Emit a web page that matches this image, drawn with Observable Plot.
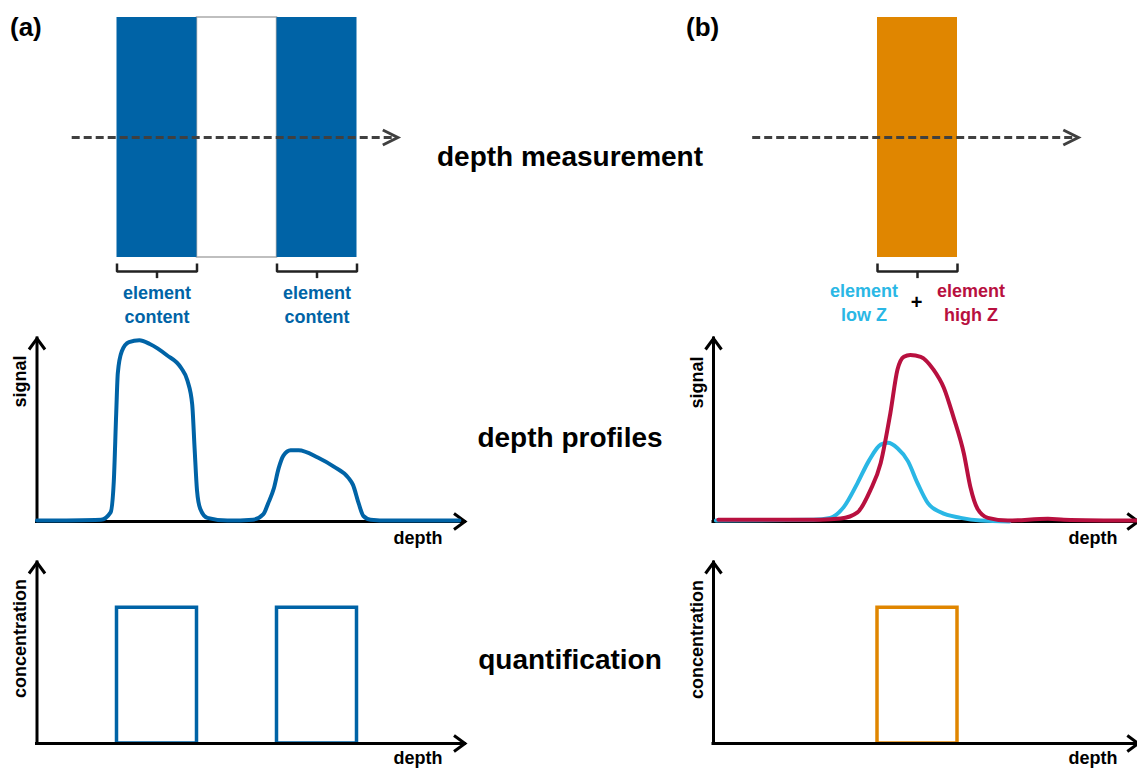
<!DOCTYPE html>
<html><head><meta charset="utf-8">
<script src="https://cdn.jsdelivr.net/npm/d3@7"></script>
<script src="https://cdn.jsdelivr.net/npm/@observablehq/plot@0.6"></script>
<style>
body{margin:0;background:#fff;}
#fig{position:relative;width:1137px;height:768px;overflow:hidden;font-family:"Liberation Sans",Arial,sans-serif;font-weight:bold;background:#fff;}
.lbl{position:absolute;white-space:nowrap;line-height:1;color:#000;}
</style></head><body><div id="fig"></div><script>
// ---------------- data ----------------
const panelLetters = ["(a)", "(b)"];
const rowTitles = ["depth measurement", "depth profiles", "quantification"];

// (a) layered sample: layer boundaries in depth units
const layerStartA = [1, 2, 3];
const layerEndA = [2, 3, 4];
const layerHasElementA = [true, false, true];
const bracketLabelA = "element\ncontent";

// (b) single layer with two elements
const layerStartB = [2.05];
const layerEndB = [3.05];
const bracketLabelsB = ["element\nlow Z", "+", "element\nhigh Z"];
const bracketLabelDepthB = [1.88, 2.54, 3.22];

// measurement path (dashed arrow) extents
const measureA = [0.44, 4.51];
const measureB = [0.49, 4.56];

// (a) depth profile
const profileDepthA = [0, 0.8, 0.92, 0.96, 0.99, 1.01, 1.06, 1.15, 1.28, 1.41, 1.62, 1.8, 1.88, 1.94, 1.97, 2.0, 2.04, 2.13, 2.38, 2.7, 2.83, 2.89, 2.96, 3.02, 3.08, 3.17, 3.27, 3.51, 3.71, 3.89, 3.95, 4.02, 4.08, 4.17, 4.4, 5.28];
const profileSignalA = [0.5, 1, 5, 22, 59, 81, 93, 98, 99, 97, 91, 84, 77, 64, 40, 17, 7, 2, 0.5, 1, 4, 10, 18, 29, 36, 39, 39, 35, 30, 24, 20, 10, 3, 1, 0.5, 0.5];

// (b) depth profiles
const lowZDepth = [0.03, 1.25, 1.46, 1.63, 1.8, 1.94, 2.09, 2.18, 2.3, 2.43, 2.55, 2.68, 2.84, 3.09, 3.34, 3.7];
const lowZSignal = [0.5, 1, 2, 8, 21, 33, 42, 43, 40, 33, 21, 10, 5, 2, 0.5, 0];
const highZDepth = [0.06, 1.34, 1.59, 1.8, 1.96, 2.09, 2.21, 2.3, 2.38, 2.46, 2.59, 2.75, 2.88, 3.0, 3.13, 3.21, 3.3, 3.43, 3.68, 4.18, 4.38, 5.3];
const highZSignal = [1, 1, 1.6, 5, 17, 32, 59, 83, 90, 91, 90, 83, 73, 57, 37, 19, 7, 2, 0.5, 1.5, 1, 0.5];

// quantification
const concStartA = [1, 3];
const concEndA = [2, 4];
const concStartB = [2.05];
const concEndB = [3.05];
const concLevel = [75];

const axisLabels = {signal: "signal", conc: "concentration", depth: "depth"};

// ---------------- style ----------------
const BLUE = "#0063a6", ORANGE = "#e08600", CYAN = "#2ab7e5", CRIMSON = "#b8103f", DARK = "#404040";
const FONT = '"Liberation Sans", Arial, sans-serif';
const fig = document.getElementById("fig");

const chevron = (L, W) => ({draw(ctx) { ctx.moveTo(-L, -W); ctx.lineTo(0, 0); ctx.lineTo(-L, W); }});
const axisHead = chevron(11, 8);
const dashHead = chevron(15, 7.5);

function panel(left, top, width, height, xOrigin, yDomain, yRange, marks) {
  const svg = Plot.plot({
    width, height, margin: 0,
    x: {type: "linear", domain: [0, 1], range: [xOrigin, xOrigin + 80], axis: null},
    y: {type: "linear", domain: yDomain, range: yRange, axis: null},
    style: {fontFamily: FONT, fontWeight: "bold", background: "transparent", overflow: "visible"},
    marks
  });
  svg.style.position = "absolute";
  svg.style.left = left + "px";
  svg.style.top = top + "px";
  fig.appendChild(svg);
}

function axes(xEnd, yTop) {
  return [
    Plot.ruleY([0], {x1: 0, x2: xEnd, stroke: "#000", strokeWidth: 3, strokeLinecap: "square"}),
    Plot.ruleX([0], {y1: 0, y2: yTop, stroke: "#000", strokeWidth: 3, strokeLinecap: "square"}),
    Plot.dot([{x: xEnd, y: 0}], {x: "x", y: "y", symbol: axisHead, fill: "none", stroke: "#000", strokeWidth: 3, strokeLinejoin: "miter"}),
    Plot.dot([{x: 0, y: yTop}], {x: "x", y: "y", symbol: axisHead, rotate: -90, fill: "none", stroke: "#000", strokeWidth: 3, strokeLinejoin: "miter"})
  ];
}

function axisTexts(yLabel, ylx, yly, dxr, dyb) {
  return [
    Plot.text([yLabel], {text: d => d, frameAnchor: "top-left", dx: ylx, dy: yly, rotate: -90, textAnchor: "middle", lineAnchor: "bottom", fontSize: 18, fontWeight: "bold", fill: "#000"}),
    Plot.text([axisLabels.depth], {text: d => d, frameAnchor: "top-left", dx: dxr, dy: dyb, textAnchor: "end", lineAnchor: "bottom", fontSize: 18, fontWeight: "bold", fill: "#000"})
  ];
}

function brackets(starts, ends) {
  const top = -0.025, bot = -0.058, tick = -0.088;
  const pts = starts.flatMap((s, i) => [[s, top, i], [s, bot, i], [ends[i], bot, i], [ends[i], top, i]]);
  return [
    Plot.line(pts, {x: d => d[0], y: d => d[1], z: d => d[2], stroke: "#222", strokeWidth: 2.5, strokeLinejoin: "miter", strokeLinecap: "butt"}),
    Plot.ruleX(starts.map((s, i) => (s + ends[i]) / 2), {y1: bot, y2: tick, stroke: "#222", strokeWidth: 2.5})
  ];
}

function dashedArrow(ext) {
  return [
    Plot.ruleY([0.5], {x1: ext[0], x2: ext[1] - 0.02, stroke: DARK, strokeWidth: 3, strokeDasharray: "8,4"}),
    Plot.dot([{x: ext[1], y: 0.5}], {x: "x", y: "y", symbol: dashHead, fill: "none", stroke: DARK, strokeWidth: 3, strokeLinejoin: "miter"})
  ];
}

const structY = [[0, 1], [257, 17]];
const profY = [[0, 100], [191, 8]];
const concY = [[0, 100], [193, 12]];

// ---------------- (a) structure ----------------
const idxA = layerStartA.map((_, i) => i);
const elemA = idxA.filter(i => layerHasElementA[i]);
panel(0, 0, 470, 330, 36.5, structY[0], structY[1], [
  Plot.rect(idxA.filter(i => !layerHasElementA[i]), {x1: i => layerStartA[i], x2: i => layerEndA[i], y1: 0, y2: 1, fill: "white", stroke: "#aaa", strokeWidth: 1.5}),
  Plot.rect(elemA, {x1: i => layerStartA[i], x2: i => layerEndA[i], y1: 0, y2: 1, fill: BLUE}),
  ...dashedArrow(measureA),
  ...brackets(elemA.map(i => layerStartA[i]), elemA.map(i => layerEndA[i])),
  Plot.text(elemA, {x: i => (layerStartA[i] + layerEndA[i]) / 2, text: () => bracketLabelA, frameAnchor: "top", dy: 322, lineAnchor: "bottom", lineHeight: 1.28, fontSize: 18, fontWeight: "bold", fill: BLUE})
]);

// ---------------- (b) structure ----------------
const colsB = [CYAN, "#000", CRIMSON];
panel(680, 0, 457, 330, 33, structY[0], structY[1], [
  Plot.rect(layerStartB, {x1: d => d, x2: (d, i) => layerEndB[i], y1: 0, y2: 1, fill: ORANGE}),
  ...dashedArrow(measureB),
  ...brackets(layerStartB, layerEndB),
  Plot.text([0, 2], {x: i => bracketLabelDepthB[i], text: i => bracketLabelsB[i], fill: i => colsB[i], frameAnchor: "top", dy: 320, lineAnchor: "bottom", lineHeight: 1.28, fontSize: 18, fontWeight: "bold"}),
  Plot.text([1], {x: i => bracketLabelDepthB[i], text: i => bracketLabelsB[i], fill: "#000", frameAnchor: "top", dy: 302, lineAnchor: "middle", fontSize: 20, fontWeight: "bold"})
]);

// ---------------- (a) profile ----------------
const profA = profileDepthA.map((d, i) => ({depth: d, signal: profileSignalA[i]}));
panel(0, 330, 470, 220, 36.5, profY[0], profY[1], [
  ...axes(5.35, 100),
  Plot.line(profA, {x: "depth", y: "signal", stroke: BLUE, strokeWidth: 4, curve: "monotone-x"}),
  ...axisTexts(axisLabels.signal, 25, 51, 442, 213)
]);

// ---------------- (b) profile ----------------
const lowZ = lowZDepth.map((d, i) => ({depth: d, signal: lowZSignal[i]}));
const highZ = highZDepth.map((d, i) => ({depth: d, signal: highZSignal[i]}));
panel(680, 330, 457, 220, 33, profY[0], profY[1], [
  ...axes(5.31, 100),
  Plot.line(lowZ, {x: "depth", y: "signal", stroke: CYAN, strokeWidth: 4, curve: "monotone-x"}),
  Plot.line(highZ, {x: "depth", y: "signal", stroke: CRIMSON, strokeWidth: 4, curve: "monotone-x"}),
  ...axisTexts(axisLabels.signal, 22, 52, 437, 213)
]);

// ---------------- (a) quantification ----------------
panel(0, 550, 470, 218, 36.5, concY[0], concY[1], [
  Plot.rect(concStartA, {x1: d => d, x2: (d, i) => concEndA[i], y1: 0, y2: concLevel[0], fill: "none", stroke: BLUE, strokeWidth: 3.5}),
  ...axes(5.35, 100),
  ...axisTexts(axisLabels.conc, 25, 88, 442, 213)
]);

// ---------------- (b) quantification ----------------
panel(680, 550, 457, 218, 33, concY[0], concY[1], [
  Plot.rect(concStartB, {x1: d => d, x2: (d, i) => concEndB[i], y1: 0, y2: concLevel[0], fill: "none", stroke: ORANGE, strokeWidth: 3.5}),
  ...axes(5.31, 100),
  ...axisTexts(axisLabels.conc, 22, 89, 437, 213)
]);

// ---------------- HTML labels ----------------
function label(text, left, top, size, center) {
  const el = document.createElement("div");
  el.className = "lbl";
  el.textContent = text;
  el.style.left = left + "px";
  el.style.top = top + "px";
  el.style.fontSize = size + "px";
  if (center) el.style.transform = "translateX(-50%)";
  fig.appendChild(el);
}
label(panelLetters[0], 10, 14, 26, false);
label(panelLetters[1], 686, 14, 26, false);
const titleTops = [143, 424, 646];
rowTitles.forEach((t, i) => label(t, 570, titleTops[i], 28, true));
</script></body></html>
